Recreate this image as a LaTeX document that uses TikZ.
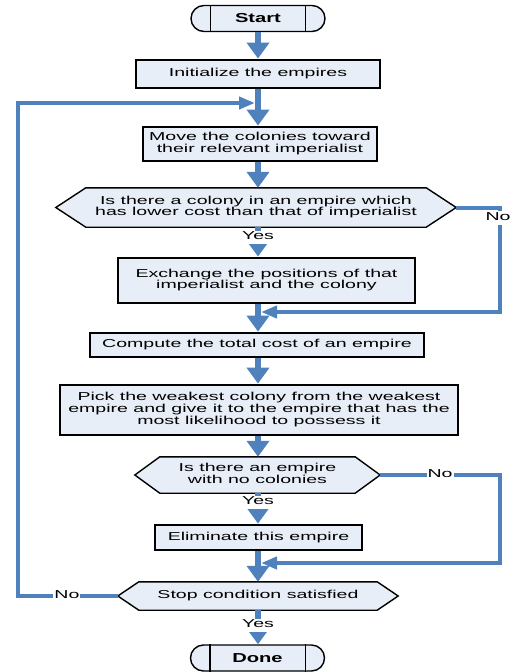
\documentclass[tikz,border=0pt]{standalone}
\usepackage{fontspec}
\setmainfont{Liberation Sans}
\usepackage{graphicx}
\usetikzlibrary{positioning, arrows.meta, calc, backgrounds}
\definecolor{flowblue}{RGB}{79,129,189}
\definecolor{boxfill}{RGB}{232,238,247}
\newcommand{\wtext}[1]{\scalebox{1.7}[1]{\begin{tabular}{@{}c@{}}#1\end{tabular}}}
\newcommand{\btext}[1]{\scalebox{1.55}[1]{\bfseries #1}}

\begin{document}
\begin{tikzpicture}
[x=1pt, y=-1pt,
 proc/.style={rectangle, draw=black, line width=2.8pt, fill=boxfill, inner sep=0pt,
   font=\fontsize{11.5}{11}\selectfont},
 term/.style={rectangle, draw=black, line width=1.4pt, fill=boxfill, rounded corners=13pt,
   minimum width=134pt, minimum height=26pt, inner sep=0pt, font=\fontsize{13}{13}\selectfont},
 dec/.style={rectangle, inner sep=0pt, font=\fontsize{11.5}{11}\selectfont},
 hexline/.style={draw=black, line width=1.4pt, fill=boxfill},
 flow/.style={flowblue, line width=6pt, arrows={-Triangle[length=16pt, width=22pt]}},
 back/.style={flowblue, line width=4pt, arrows={-Triangle[length=16pt, width=12pt]}},
 lbl/.style={fill=white, text=black, inner sep=1pt, font=\fontsize{11.5}{11}\selectfont}]

\useasboundingbox (0,0) rectangle (510,672);
\coordinate (axis) at (258,0);

% boxes and decisions
\node[term] (start) at (258,18.5) {\btext{Start}};
\node[proc, minimum width=244pt, minimum height=28pt] (init) at (258,74)
  {\wtext{Initialize the empires}};
\node[proc, minimum width=234pt, minimum height=34pt] (move) at (260,144)
  {\wtext{Move the colonies toward\\their relevant imperialist}};
\node[dec, minimum width=400pt, minimum height=39pt] (cond1) at (256,207.5)
  {\wtext{Is there a colony in an empire which\\has lower cost than that of imperialist}};
\node[proc, minimum width=297pt, minimum height=45pt] (exch) at (266.5,280.5)
  {\wtext{Exchange the positions of that\\imperialist and the colony}};
\node[proc, minimum width=334pt, minimum height=24pt] (cost) at (257,345)
  {\wtext{Compute the total cost of an empire}};
\node[proc, minimum width=398pt, minimum height=50pt] (pick) at (259,410)
  {\wtext{Pick the weakest colony from the weakest\\empire and give it to the empire that has the\\most likelihood to possess it}};
\node[dec, minimum width=245pt, minimum height=36pt] (cond2) at (257.5,475)
  {\wtext{Is there an empire\\with no colonies}};
\node[proc, minimum width=207pt, minimum height=25pt] (elim) at (258.5,537.5)
  {\wtext{Eliminate this empire}};
\node[dec, minimum width=280pt, minimum height=28pt] (cond3) at (258,596)
  {\wtext{Stop condition satisfied}};
\node[term] (done) at (257.5,658) {\btext{Done}};

% hexagon outlines and terminal bars
\begin{scope}[on background layer]
\foreach \c/\d in {cond1/30, cond2/25, cond3/21}
  \draw[hexline] (\c.west) -- ([xshift=\d pt]\c.north west) -- ([xshift=-\d pt]\c.north east)
    -- (\c.east) -- ([xshift=-\d pt]\c.south east) -- ([xshift=\d pt]\c.south west) -- cycle;
\end{scope}
\foreach \t in {start, done} {
  \draw[line width=1.4pt] ([xshift=20pt]\t.north west) -- ([xshift=20pt]\t.south west);
  \draw[line width=1.4pt] ([xshift=-20pt]\t.north east) -- ([xshift=-20pt]\t.south east);
}

% main flow
\draw[flow] (start.south -| axis) -- (init.north -| axis);
\draw[flow] (init.south -| axis) -- (move.north -| axis);
\draw[flow] (move.south -| axis) -- (cond1.north -| axis);
\draw[flow] (cond1.south -| axis) -- node[lbl, pos=0.35] {\wtext{Yes}} (exch.north -| axis);
\draw[flow] (exch.south -| axis) -- (cost.north -| axis);
\draw[flow] (cost.south -| axis) -- (pick.north -| axis);
\draw[flow] (pick.south -| axis) -- (cond2.north -| axis);
\draw[flow] (cond2.south -| axis) -- node[lbl, pos=0.31] {\wtext{Yes}} (elim.north -| axis);
\draw[flow] (elim.south -| axis) -- (cond3.north -| axis);
\draw[flow] (cond3.south -| axis) -- node[lbl, pos=0.45] {\wtext{Yes}} (done.north -| axis);

% return branches
\coordinate (ret1) at (500,312);
\coordinate (j1) at (261,312);
\coordinate (ret2a) at (500,475);
\coordinate (ret2) at (500,563);
\coordinate (j2) at (261,563);
\coordinate (ret3a) at (18,596);
\coordinate (ret3) at (18,103);
\coordinate (j3) at (255,103);

\draw[back] (cond1.east) -| node[lbl, pos=0.55, xshift=-2pt] {\wtext{No}} (ret1) -- (j1);
\draw[back] (cond2.east) -- node[lbl, pos=0.5] {\wtext{No}} (ret2a) -- (ret2) -- (j2);
\draw[back] (cond3.west) -- node[lbl, pos=0.51] {\wtext{No}} (ret3a) -- (ret3) -- (j3);

\end{tikzpicture}
\end{document}
